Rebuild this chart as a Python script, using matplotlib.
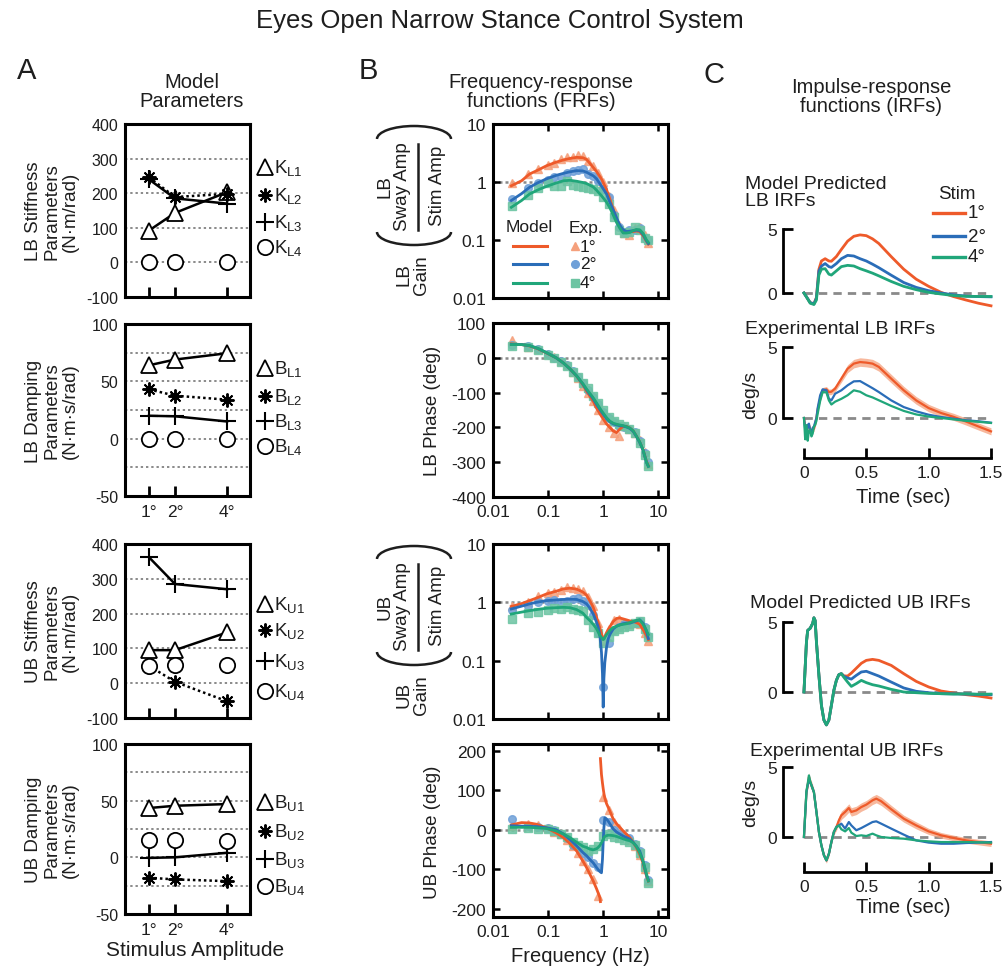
import matplotlib
matplotlib.use("Agg")
import matplotlib.pyplot as plt
from matplotlib.lines import Line2D
from matplotlib.patches import Arc
from matplotlib.ticker import NullLocator

plt.rcParams["font.family"] = ["Liberation Sans", "DejaVu Sans"]
plt.rcParams["mathtext.fontset"] = "custom"
plt.rcParams["mathtext.rm"] = "Liberation Sans"
plt.rcParams["mathtext.it"] = "Liberation Sans:italic"
plt.rcParams["mathtext.default"] = "regular"
plt.rcParams["axes.unicode_minus"] = False

# ---------------------------------------------------------------- data
AMPS = [1, 2, 4]
AMP_LABELS = ["1°", "2°", "4°"]

KL1 = [92, 143, 203]
KL2 = [246, 189, 198]
KL3 = [240, 185, 170]
KL4 = [0, 0, 0]
BL1 = [64, 69, 74.5]
BL2 = [43, 37.5, 34]
BL3 = [20, 19.5, 15]
BL4 = [0, 0, 0]
KU1 = [95, 95, 146]
KU2 = [50, 4, -52]
KU3 = [362, 285, 270]
KU4 = [50, 52, 52]
BU1 = [43.5, 45.5, 47]
BU2 = [-18, -19.5, -21]
BU3 = [-0.5, 0, 4]
BU4 = [15, 15, 14.5]

STIM = ["1°", "2°", "4°"]

# model frequency-response functions, lower body
LB_F = [0.0215, 0.033, 0.046, 0.065, 0.093, 0.14, 0.19, 0.25, 0.33, 0.43, 0.5, 0.66, 0.76, 0.93,
        1.15, 1.32, 1.52, 1.75, 2.0, 2.3, 2.66, 3.05, 3.5, 4.0, 4.6, 5.3, 6.1, 6.6]
LB_GAIN_1 = [0.86, 1.05, 1.37, 1.6, 1.9, 2.2, 2.4, 2.55, 2.66, 2.62, 2.45, 1.78, 1.5, 1.13,
             0.74, 0.51, 0.34, 0.23, 0.17, 0.144, 0.138, 0.139, 0.14, 0.143, 0.14, 0.119, 0.095, 0.085]
LB_GAIN_2 = [0.48, 0.63, 0.81, 0.97, 1.13, 1.3, 1.41, 1.5, 1.57, 1.55, 1.47, 1.28, 1.13, 0.85,
             0.62, 0.45, 0.33, 0.24, 0.18, 0.15, 0.14, 0.142, 0.145, 0.148, 0.145, 0.125, 0.097, 0.087]
LB_GAIN_4 = [0.366, 0.48, 0.62, 0.73, 0.84, 0.96, 1.05, 1.07, 1.03, 0.98, 0.94, 0.82, 0.72, 0.58,
             0.45, 0.36, 0.27, 0.2, 0.16, 0.132, 0.132, 0.135, 0.145, 0.152, 0.15, 0.13, 0.1, 0.091]
LB_PHASE_1 = [40, 38, 34, 26, 14, 0, -15, -32, -53, -78, -96, -125, -145, -168,
              -190, -200, -210, -215, -205, -197, -197, -202, -210, -225, -242, -265, -298, -310]
LB_PHASE_2 = [39, 38, 35, 27, 15, 0, -15, -32, -52, -76, -92, -118, -134, -155,
              -175, -184, -190, -193, -195, -196, -199, -203, -211, -226, -243, -266, -300, -312]
LB_PHASE_4 = [38, 38, 35, 27, 15, 0, -15, -32, -52, -75, -90, -115, -130, -152,
              -172, -182, -188, -191, -193, -195, -198, -202, -210, -225, -242, -265, -300, -312]

# model frequency-response functions, upper body
UB_F = [0.0215, 0.033, 0.046, 0.061, 0.093, 0.14, 0.19, 0.25, 0.33, 0.43, 0.5, 0.57, 0.66, 0.76,
        0.81, 0.87, 0.93, 0.97, 1.0, 1.03, 1.07, 1.15, 1.23, 1.32, 1.52, 1.75, 2.0, 2.3, 2.66,
        3.05, 3.5, 4.0, 4.6, 5.3, 6.1, 6.6]
UB_GAIN_1 = [0.85, 0.95, 1.07, 1.18, 1.39, 1.55, 1.7, 1.75, 1.68, 1.5, 1.32, 1.07, 0.82, 0.55,
             0.45, 0.36, 0.29, 0.25, 0.235, 0.24, 0.26, 0.3, 0.34, 0.38, 0.47, 0.53, 0.54, 0.52, 0.5,
             0.48, 0.47, 0.45, 0.42, 0.34, 0.27, 0.23]
UB_GAIN_2 = [0.77, 0.86, 0.94, 1.0, 1.07, 1.1, 1.12, 1.13, 1.12, 1.03, 0.94, 0.8, 0.63, 0.45,
             0.38, 0.27, 0.14, 0.06, 0.016, 0.05, 0.093, 0.17, 0.235, 0.28, 0.35, 0.39, 0.41, 0.43, 0.44,
             0.44, 0.46, 0.48, 0.5, 0.44, 0.32, 0.24]
UB_GAIN_4 = [0.63, 0.68, 0.72, 0.75, 0.79, 0.81, 0.82, 0.81, 0.75, 0.65, 0.55, 0.49, 0.42, 0.35,
             0.31, 0.27, 0.25, 0.235, 0.23, 0.235, 0.25, 0.28, 0.3, 0.33, 0.37, 0.39, 0.41, 0.42, 0.43,
             0.45, 0.47, 0.49, 0.5, 0.42, 0.33, 0.28]
UB_PHASE_1_LOW_F = [0.0215, 0.033, 0.046, 0.061, 0.093, 0.14, 0.19, 0.25, 0.33, 0.43, 0.5, 0.57,
                    0.66, 0.76, 0.81, 0.87, 0.89]
UB_PHASE_1_LOW = [12, 18, 17, 14, 5, -8, -20, -35, -54, -80, -96, -112, -130, -150, -160, -172, -182]
UB_PHASE_1_HIGH_F = [0.89, 0.93, 0.97, 1.0, 1.03, 1.07, 1.15, 1.23, 1.32, 1.52, 1.75, 2.0, 2.3,
                     2.66, 3.05, 3.5, 4.0, 4.6, 5.3, 6.1, 6.6]
UB_PHASE_1_HIGH = [180, 140, 118, 104, 92, 80, 66, 57, 47, 27, 15, 6, -3, -12, -20, -32, -45, -62,
                   -85, -117, -130]
UB_PHASE_2 = [10, 9, 8.5, 8, 5, 0, -11, -25, -41, -58, -66, -75, -84, -96, -101, -106, -109, -75,
              -30, 5, 30, 27, 22, 15, 2, -6, -11, -16, -20, -24, -32, -42, -54, -80, -115, -126]
UB_PHASE_4 = [6, 6, 6, 5, 3, -3, -11, -20, -32, -42, -45, -49, -51, -48, -45, -40, -33, -28,
              -25, -20, -17, -15, -14, -14, -15, -17, -20, -23, -26, -28, -33, -42, -58, -80, -112, -130]

# experimental frequency-response functions
EXP_F = [0.022, 0.044, 0.066, 0.1, 0.13, 0.17, 0.22, 0.28, 0.35, 0.43, 0.53, 0.65, 0.8, 1.0,
         1.25, 1.55, 1.9, 2.4, 3.0, 3.7, 4.6, 5.7, 6.6]
EXP_LB_GAIN_1 = [0.95, 1.35, 1.7, 2.0, 2.15, 2.5, 2.7, 2.75, 2.9, 2.85, 2.3, 1.9, 1.45, 1.0,
                 0.58, 0.33, 0.18, 0.13, 0.12, 0.16, 0.17, 0.12, 0.09]
EXP_LB_GAIN_2 = [0.5, 0.78, 0.95, 1.1, 1.2, 1.2, 1.45, 1.55, 1.6, 1.65, 1.4, 1.25, 1.05, 0.75,
                 0.55, 0.27, 0.17, 0.14, 0.15, 0.15, 0.16, 0.11, 0.1]
EXP_LB_GAIN_4 = [0.38, 0.6, 0.8, 0.95, 0.85, 0.85, 1.05, 0.9, 0.85, 0.82, 0.8, 0.75, 0.7, 0.55,
                 0.42, 0.25, 0.15, 0.13, 0.14, 0.17, 0.15, 0.11, 0.1]
EXP_LB_PHASE_1 = [50, 32, 25, 12, 3, -8, -20, -40, -58, -80, -100, -125, -150, -178,
                  -200, -215, -225, -195, -205, -215, -235, -270, -305]
EXP_LB_PHASE_2 = [38, 33, 25, 10, 0, -10, -22, -38, -55, -72, -92, -112, -132, -155,
                  -172, -185, -195, -198, -205, -212, -240, -275, -300]
EXP_LB_PHASE_4 = [35, 30, 22, 8, -2, -12, -25, -40, -55, -72, -88, -110, -130, -150,
                  -170, -182, -190, -195, -205, -215, -245, -280, -310]
EXP_UB_GAIN_1 = [0.88, 1.0, 1.3, 1.45, 1.5, 1.65, 1.8, 1.75, 1.7, 1.55, 1.25, 0.85, 0.45, 0.22,
                 0.35, 0.5, 0.52, 0.45, 0.42, 0.45, 0.42, 0.3, 0.22]
EXP_UB_GAIN_2 = [0.75, 0.85, 1.0, 1.05, 1.1, 1.0, 1.05, 1.15, 1.2, 1.05, 0.9, 0.6, 0.3, 0.035,
                 0.2, 0.33, 0.38, 0.42, 0.42, 0.45, 0.48, 0.38, 0.26]
EXP_UB_GAIN_4 = [0.52, 0.65, 0.68, 0.75, 0.8, 0.78, 0.82, 0.78, 0.75, 0.7, 0.5, 0.38, 0.3, 0.2,
                 0.25, 0.32, 0.35, 0.38, 0.4, 0.45, 0.48, 0.35, 0.25]
EXP_UB_PHASE_1 = [10, 15, 12, 5, -5, -12, -25, -42, -60, -80, -100, -125, -168, 82,
                  50, 20, 5, -10, -25, -40, -65, -100, -130]
EXP_UB_PHASE_2 = [27, 10, 8, 5, 0, -12, -20, -38, -45, -60, -70, -85, -95, 25,
                  20, 0, -10, -15, -22, -35, -55, -90, -128]
EXP_UB_PHASE_4 = [3, 5, 3, 2, -2, -10, -18, -30, -38, -45, -55, -50, -40, -15,
                  -10, -18, -22, -25, -30, -38, -60, -95, -135]

# impulse-response functions (deg/s)
MODEL_LB_T = [0, 0.02, 0.05, 0.08, 0.1, 0.12, 0.14, 0.17, 0.2, 0.22, 0.26, 0.3, 0.35, 0.4, 0.45,
              0.5, 0.55, 0.6, 0.7, 0.8, 0.9, 1.0, 1.1, 1.2, 1.3, 1.4, 1.5]
MODEL_LB_1 = [0, -0.3, -0.75, -0.85, -0.35, 1.85, 2.5, 2.68, 2.5, 2.48, 2.85, 3.4, 4.05, 4.43, 4.54,
              4.48, 4.23, 3.87, 2.84, 1.86, 1.08, 0.52, 0.05, -0.28, -0.55, -0.8, -1.0]
MODEL_LB_2 = [0, -0.3, -0.75, -0.85, -0.4, 1.73, 2.1, 2.3, 2.06, 2.0, 2.3, 2.68, 2.94, 2.89, 2.68,
              2.5, 2.25, 1.98, 1.39, 0.82, 0.44, 0.18, 0, -0.15, -0.24, -0.28, -0.3]
MODEL_LB_4 = [0, -0.3, -0.8, -0.9, -0.55, 1.4, 1.86, 1.9, 1.47, 1.4, 1.73, 2.06, 2.16, 2.11, 1.9,
              1.73, 1.55, 1.34, 0.9, 0.52, 0.26, 0.05, -0.08, -0.2, -0.26, -0.27, -0.27]

EXP_LB_T = [0, 0.01, 0.02, 0.03, 0.04, 0.05, 0.06, 0.07, 0.08, 0.09, 0.1, 0.11, 0.13, 0.15, 0.18,
            0.2, 0.22, 0.25, 0.3, 0.35, 0.4, 0.45, 0.5, 0.55, 0.6, 0.7, 0.8, 0.9, 1.0, 1.1, 1.2,
            1.3, 1.4, 1.5]
EXP_LB_1 = [0, -0.6, -1.0, -0.6, -0.5, -0.8, -1.0, -0.8, -0.75, -0.4, 0, 0.6, 1.36, 1.95, 2.02,
            1.83, 1.85, 2.07, 2.77, 3.47, 3.83, 3.94, 3.9, 3.83, 3.6, 2.77, 1.95, 1.24, 0.7, 0.35,
            0.08, -0.25, -0.6, -0.94]
EXP_LB_1_SEM = [0.05, 0.15, 0.2, 0.2, 0.2, 0.2, 0.2, 0.2, 0.2, 0.2, 0.2, 0.2, 0.2, 0.2, 0.2,
                0.2, 0.2, 0.22, 0.25, 0.28, 0.3, 0.3, 0.3, 0.3, 0.3, 0.3, 0.28, 0.27, 0.26, 0.25,
                0.25, 0.25, 0.25, 0.25]
EXP_LB_2 = [0, -0.8, -1.2, -0.5, -0.4, -0.9, -1.0, -0.7, -0.6, -0.3, 0, 0.7, 1.6, 2.02, 1.95,
            1.36, 1.24, 1.71, 1.95, 2.3, 2.58, 2.6, 2.35, 2.1, 1.83, 1.24, 0.77, 0.47, 0.23, 0.07,
            -0.05, -0.16, -0.23, -0.33]
EXP_LB_4 = [0, -1.5, -0.5, -1.6, -0.9, -0.8, -1.3, -1.1, -0.6, -0.5, -0.2, 0.3, 1.2, 1.83, 1.8,
            1.24, 0.95, 1.15, 1.35, 1.6, 1.95, 1.85, 1.6, 1.45, 1.25, 0.85, 0.5, 0.25, 0.1, 0,
            -0.1, -0.2, -0.27, -0.35]

MODEL_UB_T = [0, 0.02, 0.03, 0.05, 0.07, 0.08, 0.09, 0.1, 0.12, 0.14, 0.16, 0.18, 0.2, 0.22, 0.24,
              0.26, 0.28, 0.3, 0.32, 0.35, 0.38, 0.42, 0.46, 0.5, 0.55, 0.6, 0.7, 0.8, 0.9, 1.0,
              1.1, 1.2, 1.3, 1.4, 1.5]
MODEL_UB_1 = [0, 3.57, 4.4, 4.55, 4.9, 5.3, 5.1, 3.6, 1.2, -0.95, -2.0, -2.35, -2.0, -0.95, 0.12,
              0.83, 1.24, 1.31, 1.15, 1.14, 1.35, 1.7, 2.05, 2.26, 2.33, 2.26, 1.9, 1.31, 0.76, 0.36,
              0.07, -0.07, -0.19, -0.29, -0.43]
MODEL_UB_2 = [0, 3.57, 4.4, 4.55, 4.9, 5.3, 5.1, 3.6, 1.2, -0.95, -2.0, -2.35, -2.0, -0.95, 0.12,
              0.83, 1.24, 1.31, 1.12, 1.0, 0.92, 1.19, 1.43, 1.48, 1.31, 1.14, 0.71, 0.29, 0.05,
              -0.05, -0.12, -0.13, -0.15, -0.17, -0.19]
MODEL_UB_4 = [0, 3.57, 4.4, 4.55, 4.9, 5.3, 5.1, 3.6, 1.2, -0.95, -2.0, -2.35, -2.0, -0.95, 0.12,
              0.83, 1.24, 1.31, 1.05, 0.71, 0.4, 0.6, 0.83, 0.67, 0.52, 0.43, 0.19, 0, -0.05, -0.1,
              -0.12, -0.15, -0.13, -0.16, -0.15]

EXP_UB_T = [0, 0.02, 0.03, 0.04, 0.05, 0.06, 0.08, 0.1, 0.12, 0.14, 0.16, 0.18, 0.2, 0.22, 0.24,
            0.26, 0.28, 0.3, 0.33, 0.36, 0.38, 0.42, 0.46, 0.5, 0.55, 0.58, 0.62, 0.7, 0.8, 0.9,
            1.0, 1.1, 1.2, 1.3, 1.4, 1.5]
EXP_UB_1 = [0, 3.2, 3.7, 4.3, 3.9, 3.7, 3.2, 1.8, 0.36, -0.6, -1.3, -1.67, -1.2, -0.36, 0.36,
            0.71, 1.19, 1.55, 1.79, 2.07, 1.79, 1.9, 2.14, 2.31, 2.62, 2.74, 2.55, 1.98, 1.31, 0.83,
            0.4, 0.12, -0.07, -0.24, -0.36, -0.48]
EXP_UB_1_SEM = [0.05, 0.25, 0.3, 0.3, 0.3, 0.3, 0.25, 0.2, 0.2, 0.2, 0.2, 0.2, 0.2, 0.2, 0.2,
                0.25, 0.3, 0.3, 0.3, 0.3, 0.3, 0.3, 0.3, 0.3, 0.3, 0.3, 0.3, 0.28, 0.25, 0.25,
                0.22, 0.2, 0.2, 0.2, 0.2, 0.2]
EXP_UB_2 = [0, 3.2, 3.7, 4.1, 3.9, 3.7, 3.2, 1.8, 0.36, -0.6, -1.3, -1.67, -1.2, -0.36, 0.36,
            0.71, 0.83, 0.95, 0.6, 1.07, 0.83, 0.48, 0.64, 0.83, 1.07, 1.12, 0.95, 0.6, 0.17, -0.24,
            -0.4, -0.48, -0.48, -0.43, -0.4, -0.36]
EXP_UB_4 = [0, 3.3, 3.8, 4.4, 4.0, 3.7, 3.2, 1.8, 0.36, -0.6, -1.3, -1.67, -1.2, -0.36, 0.36,
            0.71, 0.83, 0.55, 0.4, 0.64, 0.31, 0.07, 0.12, 0.07, 0.24, 0.12, 0, -0.07, -0.12, -0.24,
            -0.31, -0.36, -0.36, -0.36, -0.38, -0.4]

# ---------------------------------------------------------------- style
W, H = 1005, 970
TXT = "#1e1e1e"
C1, C2, C3 = "#EE5A2A", "#2A6DB8", "#20A67A"
L1, L2, L3 = "#F5A07C", "#6FA0D8", "#6CC4A2"
GRID = "#8a8a8a"

fig = plt.figure(figsize=(W / 100, H / 100), dpi=100)


def fx(x):
    return x / W


def fy(y):
    return 1 - y / H


def add_ax(l, t, r, b):
    return fig.add_axes([l / W, 1 - b / H, (r - l) / W, (b - t) / H])


def ftext(x, y, s, **kw):
    kw.setdefault("color", TXT)
    kw.setdefault("ha", "center")
    kw.setdefault("va", "center")
    return fig.text(fx(x), fy(y), s, **kw)


# ---------------------------------------------------------------- headers
ftext(500, 21, "Eyes Open Narrow Stance Control System", fontsize=18.5)
ftext(27, 71, "A", fontsize=21)
ftext(368, 71, "B", fontsize=21)
ftext(714, 75, "C", fontsize=21)
ftext(192, 92, "Model\nParameters", fontsize=14.5, linespacing=1.05)
ftext(541, 92, "Frequency-response\nfunctions (FRFs)", fontsize=14.5, linespacing=1.05)
ftext(871, 97, "Impulse-response\nfunctions (IRFs)", fontsize=14.5, linespacing=1.05)

# ---------------------------------------------------------------- panel A
MARKERS = {
    "tri": dict(marker="^", ms=12, mfc="white", mec="k", mew=1.3, ls="-"),
    "ast": dict(marker=(8, 2, 0), ms=10, mfc="k", mec="k", mew=1.4, ls=(0, (1.0, 1.2))),
    "plus": dict(marker="+", ms=13, mec="k", mew=1.5, ls="-"),
    "circ": dict(marker="o", ms=11, mfc="white", mec="k", mew=1.3, ls="none"),
}


def param_panel(box, ylim, yticks, grid, rows, legend_y, ylabel, show_x):
    l, t, r, b = box
    ax = add_ax(l, t, r, b)
    ax.set_xlim(0.08, 4.88)
    ax.set_ylim(*ylim)
    for g in grid:
        ax.axhline(g, color=GRID, lw=1.4, ls=(0, (1.2, 1.5)), zorder=0)
    for (vals, kind, label), ly in zip(rows, legend_y):
        st = dict(MARKERS[kind])
        ls = st.pop("ls")
        ax.plot(AMPS, vals, color="k", lw=1.8, ls=ls, zorder=3, clip_on=False, **st)
        yf = (b - ly) / (b - t)
        ax.plot([(265 - l) / (r - l)], [yf], transform=ax.transAxes, clip_on=False,
                ls="none", **st)
        ax.text((274 - l) / (r - l), yf, label, transform=ax.transAxes, fontsize=13.5,
                ha="left", va="center", color=TXT)
    ax.set_yticks(yticks)
    ax.set_xticks(AMPS)
    ax.set_xticklabels(AMP_LABELS if show_x else [])
    ax.tick_params(axis="x", direction="in", length=7, width=2, labelsize=12.5, pad=6,
                   colors="k", labelcolor=TXT)
    ax.tick_params(axis="y", length=0, labelsize=11.5, pad=5, labelcolor=TXT)
    for s in ax.spines.values():
        s.set_linewidth(2.2)
    ftext(52, (t + b) / 2, ylabel, rotation=90, fontsize=13.5, linespacing=1.1)
    return ax


param_panel((125, 125, 250, 298), (-100, 400), [-100, 0, 100, 200, 300, 400], [0, 100, 200, 300],
            [(KL1, "tri", r"$K_{L1}$"), (KL2, "ast", r"$K_{L2}$"),
             (KL3, "plus", r"$K_{L3}$"), (KL4, "circ", r"$K_{L4}$")],
            [168, 196, 223, 248], "LB Stiffness\nParameters\n(N·m/rad)", False)
param_panel((125, 325, 250, 497), (-50, 100), [-50, 0, 50, 100], [-25, 0, 25, 50, 75],
            [(BL1, "tri", r"$B_{L1}$"), (BL2, "ast", r"$B_{L2}$"),
             (BL3, "plus", r"$B_{L3}$"), (BL4, "circ", r"$B_{L4}$")],
            [369, 397, 422, 447], "LB Damping\nParameters\n(N·m·s/rad)", True)
param_panel((125, 545, 250, 719), (-100, 400), [-100, 0, 100, 200, 300, 400], [0, 100, 200, 300],
            [(KU1, "tri", r"$K_{U1}$"), (KU2, "ast", r"$K_{U2}$"),
             (KU3, "plus", r"$K_{U3}$"), (KU4, "circ", r"$K_{U4}$")],
            [605, 631, 662, 692], "UB Stiffness\nParameters\n(N·m/rad)", False)
param_panel((125, 745, 250, 915), (-50, 100), [-50, 0, 50, 100], [-25, 0, 25, 50, 75],
            [(BU1, "tri", r"$B_{U1}$"), (BU2, "ast", r"$B_{U2}$"),
             (BU3, "plus", r"$B_{U3}$"), (BU4, "circ", r"$B_{U4}$")],
            [803, 832, 860, 887], "UB Damping\nParameters\n(N·m·s/rad)", True)
ftext(195, 951, "Stimulus Amplitude", fontsize=15)

# ---------------------------------------------------------------- panel B


def frf_axes(box, gain, ylim=None, yticks=None, xlabels=False):
    ax = add_ax(*box)
    ax.set_xscale("log")
    ax.set_xlim(0.01, 15)
    ax.set_xticks([0.01, 0.1, 1, 10])
    ax.set_xticklabels(["0.01", "0.1", "1", "10"] if xlabels else [])
    ax.xaxis.set_minor_locator(NullLocator())
    if gain:
        ax.set_yscale("log")
        ax.set_ylim(0.01, 10)
        ax.set_yticks([0.01, 0.1, 1, 10])
        ax.set_yticklabels(["0.01", "0.1", "1", "10"])
        ax.yaxis.set_minor_locator(NullLocator())
        ax.axhline(1, color=GRID, lw=1.8, ls=(0, (1.2, 1.2)), zorder=0)
    else:
        ax.set_ylim(*ylim)
        ax.set_yticks(yticks)
        ax.axhline(0, color=GRID, lw=1.8, ls=(0, (1.2, 1.2)), zorder=0)
    ax.tick_params(direction="in", top=True, right=True, length=5, width=1.8,
                   labelsize=12.5, labelcolor=TXT, pad=5)
    for s in ax.spines.values():
        s.set_linewidth(2.2)
    return ax


def exp_markers(ax, series):
    for vals, mk, col in series:
        ax.plot(EXP_F, vals, ls="none", marker=mk, ms=5.5, mfc=col, mec=col, alpha=0.85, zorder=2)


ax = frf_axes((493, 125, 668, 299), True)
exp_markers(ax, [(EXP_LB_GAIN_1, "^", L1), (EXP_LB_GAIN_2, "o", L2), (EXP_LB_GAIN_4, "s", L3)])
for vals, col in [(LB_GAIN_1, C1), (LB_GAIN_2, C2), (LB_GAIN_4, C3)]:
    ax.plot(LB_F, vals, color=col, lw=2, zorder=3)

ax = frf_axes((493, 324, 668, 498), False, (-400, 100), [-400, -300, -200, -100, 0, 100], True)
exp_markers(ax, [(EXP_LB_PHASE_1, "^", L1), (EXP_LB_PHASE_2, "o", L2), (EXP_LB_PHASE_4, "s", L3)])
for vals, col in [(LB_PHASE_1, C1), (LB_PHASE_2, C2), (LB_PHASE_4, C3)]:
    ax.plot(LB_F, vals, color=col, lw=2, zorder=3)

ax = frf_axes((493, 545, 668, 720), True)
exp_markers(ax, [(EXP_UB_GAIN_1, "^", L1), (EXP_UB_GAIN_2, "o", L2), (EXP_UB_GAIN_4, "s", L3)])
for vals, col in [(UB_GAIN_1, C1), (UB_GAIN_2, C2), (UB_GAIN_4, C3)]:
    ax.plot(UB_F, vals, color=col, lw=2, zorder=3)

ax = frf_axes((493, 745, 668, 918), False, (-221, 217), [-200, -100, 0, 100, 200], True)
exp_markers(ax, [(EXP_UB_PHASE_1, "^", L1), (EXP_UB_PHASE_2, "o", L2), (EXP_UB_PHASE_4, "s", L3)])
ax.plot(UB_PHASE_1_LOW_F, UB_PHASE_1_LOW, color=C1, lw=2, zorder=3)
ax.plot(UB_PHASE_1_HIGH_F, UB_PHASE_1_HIGH, color=C1, lw=2, zorder=3)
ax.plot(UB_F, UB_PHASE_2, color=C2, lw=2, zorder=3)
ax.plot(UB_F, UB_PHASE_4, color=C3, lw=2, zorder=3)


def gain_label(T, tag):
    fig.add_artist(Arc((fx(414), fy(T + 15)), 74 / W, 26 / H, theta1=0, theta2=180,
                       transform=fig.transFigure, lw=1.8, color=TXT))
    fig.add_artist(Arc((fx(414), fy(T + 108)), 74 / W, 26 / H, theta1=180, theta2=360,
                       transform=fig.transFigure, lw=1.8, color=TXT))
    ftext(394, T + 62, f"{tag}\nSway Amp", rotation=90, fontsize=13.5, linespacing=1.05)
    fig.add_artist(Line2D([fx(418), fx(418)], [fy(T + 20), fy(T + 106)],
                          transform=fig.transFigure, lw=1.8, color=TXT))
    ftext(437, T + 61, "Stim Amp", rotation=90, fontsize=13.5)
    ftext(413, T + 150, f"{tag}\nGain", rotation=90, fontsize=13.5, linespacing=1.05)


gain_label(125, "LB")
gain_label(545, "UB")
ftext(432, 411, "LB Phase (deg)", rotation=90, fontsize=13.5)
ftext(432, 832, "UB Phase (deg)", rotation=90, fontsize=13.5)
ftext(580, 957, "Frequency (Hz)", fontsize=14.5)

# legend inside the LB gain axes
ftext(529, 228, "Model", fontsize=12.5)
ftext(586, 228, "Exp.", fontsize=12.5)
for y, col, lcol, mk, lab in [(247, C1, L1, "^", STIM[0]), (265, C2, L2, "o", STIM[1]),
                              (284, C3, L3, "s", STIM[2])]:
    fig.add_artist(Line2D([fx(513), fx(547)], [fy(y), fy(y)], transform=fig.transFigure,
                          color=col, lw=2.2))
    fig.add_artist(Line2D([fx(575)], [fy(y)], transform=fig.transFigure, ls="none",
                          marker=mk, ms=5.5, mfc=lcol, mec=lcol))
    ftext(580, y, lab, fontsize=12.5, ha="left")

# ---------------------------------------------------------------- panel C
T_LEFT, T_RIGHT = -0.168, 1.52


def irf_axes(y0, y5, ylo, yhi, bottom):
    ppu = (y0 - y5) / 5
    ax = add_ax(783, y0 - yhi * ppu, 783 + (T_RIGHT - T_LEFT) * 124.7, y0 - ylo * ppu)
    ax.set_xlim(T_LEFT, T_RIGHT)
    ax.set_ylim(ylo, yhi)
    ax.patch.set_alpha(0)
    for s in ("top", "right"):
        ax.spines[s].set_visible(False)
    ax.spines["left"].set_bounds(0, 5)
    ax.spines["left"].set_linewidth(2)
    ax.set_yticks([0, 5])
    ax.tick_params(axis="y", direction="in", length=7, width=2, labelsize=12.5,
                   labelcolor=TXT, pad=4)
    if bottom:
        ax.spines["bottom"].set_bounds(0, 1.5)
        ax.spines["bottom"].set_linewidth(2)
        ax.set_xticks([0, 0.5, 1.0, 1.5])
        ax.set_xticklabels(["0", "0.5", "1.0", "1.5"])
        ax.tick_params(axis="x", direction="in", length=7, width=2, labelsize=12.5,
                       labelcolor=TXT, pad=5)
    else:
        ax.spines["bottom"].set_visible(False)
        ax.set_xticks([])
    ax.plot([0, 1.5], [0, 0], color="#8a8a8a", lw=2, ls=(0, (3, 2.2)), zorder=1)
    return ax


def band(ax, t, m, sem, col, fill):
    lo = [a - s for a, s in zip(m, sem)]
    hi = [a + s for a, s in zip(m, sem)]
    ax.fill_between(t, lo, hi, color=fill, alpha=0.75, lw=0, zorder=2)
    ax.plot(t, m, color=col, lw=1.6, zorder=3)


ax = irf_axes(294, 230, -1.3, 5.2, False)
for vals, col in [(MODEL_LB_1, C1), (MODEL_LB_2, C2), (MODEL_LB_4, C3)]:
    ax.plot(MODEL_LB_T, vals, color=col, lw=2, zorder=3)

ax = irf_axes(419, 348, -2.82, 5.2, True)
band(ax, EXP_LB_T, EXP_LB_1, EXP_LB_1_SEM, C1, L1)
ax.plot(EXP_LB_T, EXP_LB_2, color=C2, lw=1.6, zorder=3)
ax.plot(EXP_LB_T, EXP_LB_4, color=C3, lw=1.6, zorder=4)

ax = irf_axes(693, 623, -2.6, 5.6, False)
for vals, col in [(MODEL_UB_1, C1), (MODEL_UB_2, C2), (MODEL_UB_4, C3)]:
    ax.plot(MODEL_UB_T, vals, color=col, lw=2, zorder=3)

ax = irf_axes(838, 768, -2.5, 5.3, True)
band(ax, EXP_UB_T, EXP_UB_1, EXP_UB_1_SEM, C1, L1)
ax.plot(EXP_UB_T, EXP_UB_2, color=C2, lw=1.6, zorder=3)
ax.plot(EXP_UB_T, EXP_UB_4, color=C3, lw=1.6, zorder=4)

ftext(745, 193, "Model Predicted\nLB IRFs", fontsize=14, ha="left", linespacing=0.95)
ftext(745, 330, "Experimental LB IRFs", fontsize=14, ha="left")
ftext(750, 603, "Model Predicted UB IRFs", fontsize=14, ha="left")
ftext(750, 751, "Experimental UB IRFs", fontsize=14, ha="left")
ftext(751, 395, "deg/s", rotation=90, fontsize=14)
ftext(751, 803, "deg/s", rotation=90, fontsize=14)
ftext(903, 498, "Time (sec)", fontsize=14.5)
ftext(903, 908, "Time (sec)", fontsize=14.5)

ftext(957, 195, "Stim", fontsize=13.5)
for y, col, lab in [(214, C1, STIM[0]), (237, C2, STIM[1]), (258, C3, STIM[2])]:
    fig.add_artist(Line2D([fx(933), fx(965)], [fy(y), fy(y)], transform=fig.transFigure,
                          color=col, lw=2.4))
    ftext(968, y, lab, fontsize=13.5, ha="left")

fig.savefig("out.png", dpi=100)
